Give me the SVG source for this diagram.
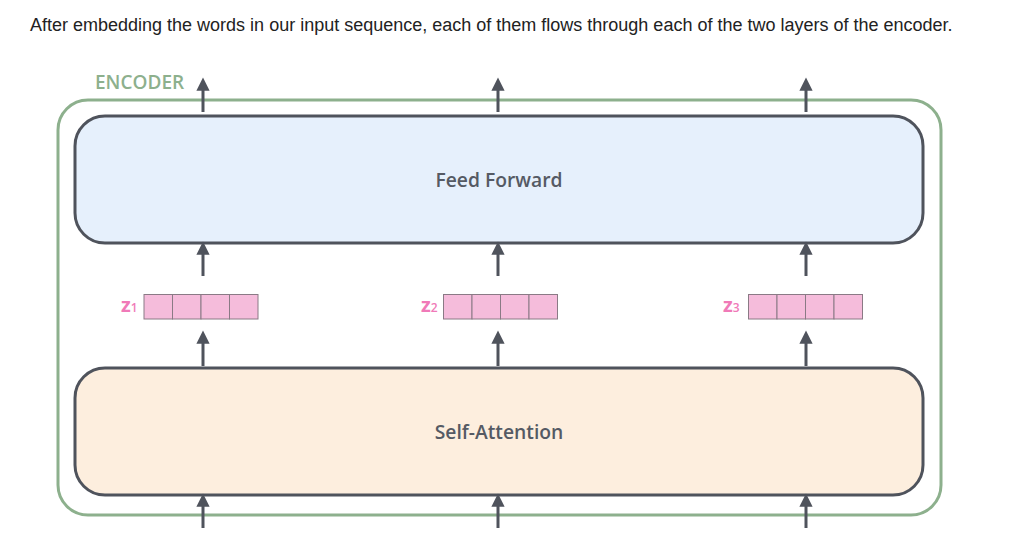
<svg xmlns="http://www.w3.org/2000/svg" width="1014" height="550" viewBox="0 0 1014 550">
<defs>
<style>
.hdr{font-family:"Liberation Sans",Arial,sans-serif;font-size:18px;fill:#222}
.lbl{font-family:"Open Sans","Noto Sans",sans-serif;font-weight:600;font-size:19.3px;fill:#555a64;text-anchor:middle}
.enc{font-family:"Open Sans","Noto Sans",sans-serif;font-weight:600;font-size:19px;fill:#8db08d}
.z{font-family:"Open Sans","Noto Sans",sans-serif;font-weight:700;font-size:20px;fill:#f07ab8}
.zs{font-size:12px;font-weight:600}
.layer{stroke:#4f535c;stroke-width:3}
.cell{fill:#f5bcdb;stroke:#8a7a85;stroke-width:1}
.arr{stroke:#4f535c;stroke-width:3;fill:none;marker-end:url(#ah)}
</style>
<marker id="ah" viewBox="0 0 10 10" refX="2" refY="5" markerWidth="4.4" markerHeight="4.4" orient="auto" markerUnits="strokeWidth">
<path d="M0,0 L10,5 L0,10 z" fill="#4f535c"/>
</marker>
</defs>
<rect width="1014" height="550" fill="#fff"/>
<text class="hdr" x="30" y="31">After embedding the words in our input sequence, each of them flows through each of the two layers of the encoder.</text>
<g id="encoder">
<rect x="58" y="100" width="883" height="415" rx="30" ry="30" fill="none" stroke="#8db08d" stroke-width="3"/>
<text class="enc" x="95" y="89">ENCODER</text>
</g>
<g id="feed-forward">
<rect class="layer" x="75" y="116" width="848" height="127" rx="30" ry="30" fill="#e6f0fc"/>
<text class="lbl" x="499" y="187">Feed Forward</text>
</g>
<g id="self-attention">
<rect class="layer" x="75" y="368" width="848" height="127" rx="30" ry="30" fill="#fdeede"/>
<text class="lbl" x="499" y="439">Self-Attention</text>
</g>
<g id="z1">
<text class="z" x="121" y="311.5">z<tspan class="zs">1</tspan></text>
<rect class="cell" x="144" y="294.5" width="28.5" height="24.5"/>
<rect class="cell" x="172.5" y="294.5" width="28.5" height="24.5"/>
<rect class="cell" x="201" y="294.5" width="28.5" height="24.5"/>
<rect class="cell" x="229.5" y="294.5" width="28.5" height="24.5"/>
</g>
<g id="z2">
<text class="z" x="421" y="311.5">z<tspan class="zs">2</tspan></text>
<rect class="cell" x="443.5" y="294.5" width="28.5" height="24.5"/>
<rect class="cell" x="472" y="294.5" width="28.5" height="24.5"/>
<rect class="cell" x="500.5" y="294.5" width="28.5" height="24.5"/>
<rect class="cell" x="529" y="294.5" width="28.5" height="24.5"/>
</g>
<g id="z3">
<text class="z" x="723" y="311.5">z<tspan class="zs">3</tspan></text>
<rect class="cell" x="748.5" y="294.5" width="28.5" height="24.5"/>
<rect class="cell" x="777" y="294.5" width="28.5" height="24.5"/>
<rect class="cell" x="805.5" y="294.5" width="28.5" height="24.5"/>
<rect class="cell" x="834" y="294.5" width="28.5" height="24.5"/>
</g>
<g id="connectors">
<line class="arr" x1="203" y1="112" x2="203" y2="88"/>
<line class="arr" x1="498" y1="112" x2="498" y2="88"/>
<line class="arr" x1="806" y1="112" x2="806" y2="88"/>
<line class="arr" x1="203" y1="276" x2="203" y2="252"/>
<line class="arr" x1="498" y1="276" x2="498" y2="252"/>
<line class="arr" x1="806" y1="276" x2="806" y2="252"/>
<line class="arr" x1="203" y1="366" x2="203" y2="341"/>
<line class="arr" x1="498" y1="366" x2="498" y2="341"/>
<line class="arr" x1="806" y1="366" x2="806" y2="341"/>
<line class="arr" x1="203" y1="528" x2="203" y2="504"/>
<line class="arr" x1="498" y1="528" x2="498" y2="504"/>
<line class="arr" x1="806" y1="528" x2="806" y2="504"/>
</g>
</svg>
